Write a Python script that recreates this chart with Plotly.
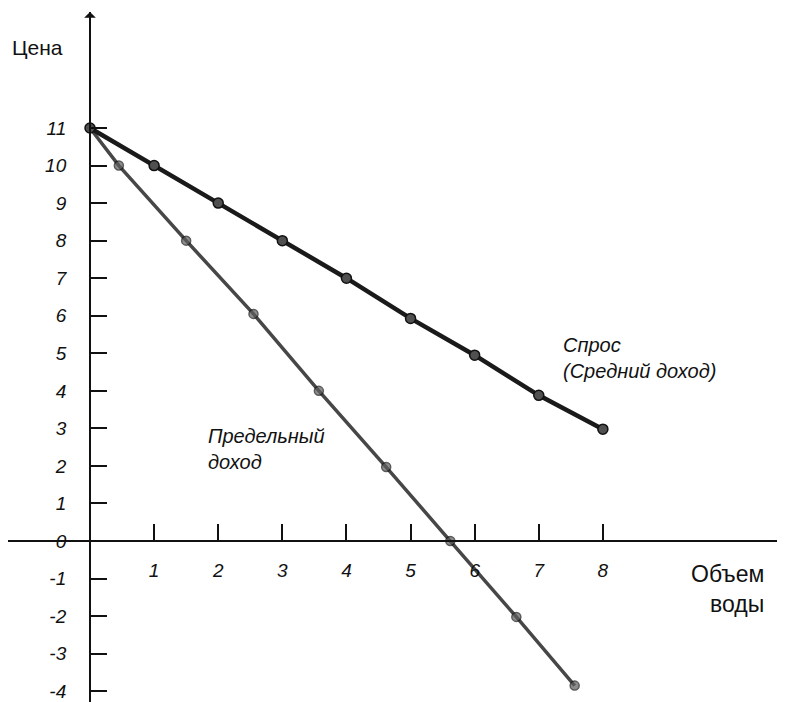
import plotly.graph_objects as go

# Спрос (средний доход)
demand_q = [0, 1, 2, 3, 4, 5, 6, 7, 8]
demand_p = [11, 10, 9, 8, 7, 5.93, 4.95, 3.88, 2.98]

# Предельный доход
mr_q = [0, 0.45, 1.5, 2.55, 3.57, 4.62, 5.62, 6.65, 7.56]
mr_p = [11, 10, 8, 6.05, 4, 1.97, 0, -2.02, -3.85]

x_ticks = [1, 2, 3, 4, 5, 6, 7, 8]
y_ticks = [-4, -3, -2, -1, 0, 1, 2, 3, 4, 5, 6, 7, 8, 9, 10, 11]
y_tick_text = ['-4', '-3', '-2', '-1', '0', '1', '2', '3', '4', '5', '6', '7', '8', '9', '10', '11']

# страница html имеет отступ 8px, поэтому всё сдвинуто на 8px
W, H = 785, 702
OFF = 8

fig = go.Figure()

fig.add_trace(go.Scatter(
    x=mr_q, y=mr_p, mode='lines+markers',
    line=dict(color='#474747', width=3.5),
    marker=dict(size=[0] + [9] * (len(mr_q) - 1), color='#5e5e5e',
                line=dict(color='#151515', width=1.5)),
    showlegend=False, cliponaxis=False
))

fig.add_trace(go.Scatter(
    x=demand_q, y=demand_p, mode='lines+markers',
    line=dict(color='#1a1a1a', width=4.5),
    marker=dict(size=10, color='#505050', line=dict(color='#111111', width=1.5)),
    showlegend=False, cliponaxis=False
))

tick_font = dict(family='Liberation Sans', size=19, color='#111111', style='italic')

fig.update_layout(
    width=W, height=H,
    margin=dict(l=0, r=0, t=0, b=0),
    paper_bgcolor='white', plot_bgcolor='white',
    xaxis=dict(
        range=[-1.279, 10.81], domain=[0, 0.9873],
        anchor='free', position=0.2407,
        showline=True, linecolor='#111111', linewidth=2,
        showgrid=False, zeroline=False,
        tickmode='array', tickvals=x_ticks,
        ticks='inside', ticklen=16, tickwidth=2, tickcolor='#111111',
        ticklabelstandoff=12, tickfont=tick_font,
    ),
    yaxis=dict(
        range=[-4.5, 14.09], domain=[0, 0.9943],
        anchor='free', position=0.1045,
        showline=True, linecolor='#111111', linewidth=2,
        showgrid=False, zeroline=False,
        tickmode='array', tickvals=y_ticks, ticktext=y_tick_text,
        ticks='inside', ticklen=16, tickwidth=2, tickcolor='#111111',
        ticklabelstandoff=19, tickfont=tick_font,
    ),
)

# стрелки осей
fig.add_annotation(x=10.81, y=0, ax=-18, ay=0, xref='x', yref='y',
                   showarrow=True, arrowhead=1, arrowsize=1.3, arrowwidth=1.5,
                   arrowcolor='#111111', text='')
fig.add_annotation(x=0, y=14.09, ax=0, ay=22, xref='x', yref='y',
                   showarrow=True, arrowhead=1, arrowsize=1.3, arrowwidth=1.5,
                   arrowcolor='#111111', text='')


def px(x, y):
    return (x - OFF) / W, 1 - (y - OFF) / H


italic_font = dict(family='Liberation Sans', size=20, color='#111111', style='italic')

x0, y0 = px(10, 47)
fig.add_annotation(x=x0, y=y0, xref='paper', yref='paper',
                   text='Цена', showarrow=False, xanchor='left', yanchor='middle',
                   font=dict(family='Liberation Sans', size=21, color='#111111'))
x0, y0 = px(766, 589)
fig.add_annotation(x=x0, y=y0, xref='paper', yref='paper',
                   text='Объем<br>воды', showarrow=False, xanchor='right', yanchor='middle',
                   align='right', font=dict(family='Liberation Sans', size=23, color='#111111'))
x0, y0 = px(561, 358)
fig.add_annotation(x=x0, y=y0, xref='paper', yref='paper',
                   text='Спрос<br>(Средний доход)', showarrow=False, xanchor='left',
                   yanchor='middle', align='left', font=italic_font)
x0, y0 = px(206, 449)
fig.add_annotation(x=x0, y=y0, xref='paper', yref='paper',
                   text='Предельный<br>доход', showarrow=False, xanchor='left',
                   yanchor='middle', align='left', font=italic_font)

fig.write_html("out.html")
